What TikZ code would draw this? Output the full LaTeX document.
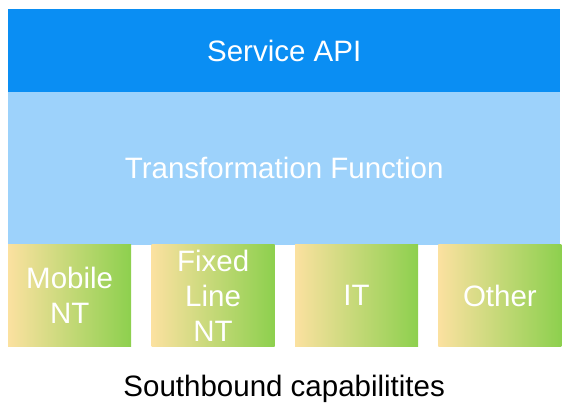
\documentclass[tikz,border=0pt]{standalone}
\usepackage{fontspec}
\setmainfont{Liberation Sans}
\usepackage{xcolor}
\usetikzlibrary{positioning}

\definecolor{apiblue}{HTML}{0A8EF3}
\definecolor{funcblue}{HTML}{9DD2FB}
\definecolor{capyellow}{HTML}{FBE1A0}
\definecolor{capgreen}{HTML}{8DD04E}

\begin{document}
\begin{tikzpicture}[x=1pt, y=-1pt, node distance=20pt,
    layer/.style={rectangle, inner sep=0pt, minimum width=552pt, text=white, font=\fontsize{29.5}{35}\selectfont},
    capbox/.style={rectangle, inner sep=0pt, minimum width=123pt, minimum height=102pt, left color=capyellow, right color=capgreen, text=white, align=center, font=\fontsize{29.5}{35}\selectfont}
]
    \useasboundingbox (0,0) rectangle (568,409);
    \node [layer, fill=apiblue, minimum height=83pt, anchor=north west] (api) at (8,9) {Service API};
    \node [layer, fill=funcblue, minimum height=152.5pt, below=-0.5pt of api] (func) {Transformation Function};
    \node [capbox, below=-0.5pt of func.south west, anchor=north west] (mobile) {Mobile\\NT};
    \node [capbox, right=of mobile] (fixed) {Fixed\\Line\\NT};
    \node [capbox, right=of fixed] (it) {IT};
    \node [capbox, right=of it] (other) {Other};
    \node [font=\fontsize{29.5}{35}\selectfont, below=25pt of func.south, yshift=-102pt] (south) {Southbound capabilitites};
\end{tikzpicture}
\end{document}
